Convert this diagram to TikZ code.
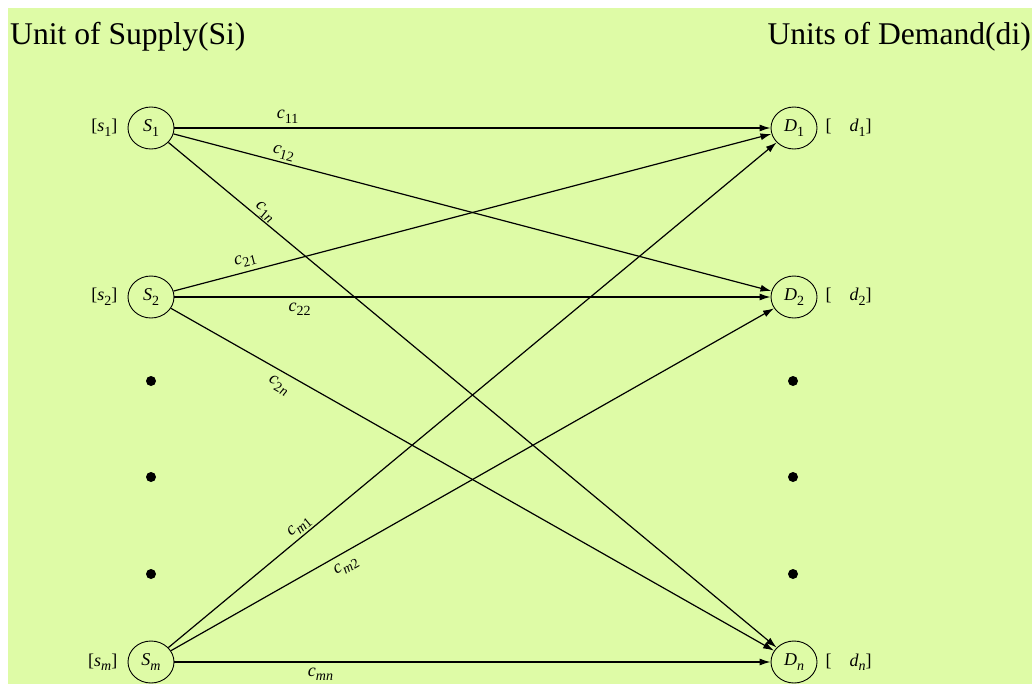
\documentclass[tikz,border=0pt]{standalone}
\usepackage{fontspec}
\setmainfont{Liberation Serif}
\usetikzlibrary{shapes.geometric,arrows.meta}
\definecolor{bgg}{RGB}{222,251,166}
\newcommand\sv[2]{\textit{#1}\raisebox{-0.25em}{\fontsize{14}{15}\selectfont #2}}
\begin{document}
\begin{tikzpicture}[x=1pt,y=-1pt,
  nd/.style={draw,ellipse,minimum width=46pt,minimum height=42pt,inner sep=0pt,line width=0.9pt,font=\fontsize{18}{20}\selectfont},
  lbl/.style={inner sep=0pt,font=\fontsize{18}{20}\selectfont},
  cl/.style={inner sep=4pt,font=\fontsize{18}{20}\selectfont},
  edge/.style={line width=1.2pt,-{Latex[length=11pt,width=7pt]}},
  dotn/.style={circle,fill=black,inner sep=0pt,minimum size=10pt},
  ttl/.style={inner sep=0pt,font=\fontsize{31.6}{36}\selectfont}]
\useasboundingbox (0,0) rectangle (1032,685);
\fill[bgg] (8,8) rectangle (1032,684);
\node[ttl,anchor=base west] (tl) at (10,45) {Unit of Supply(Si)};
\node[ttl,anchor=base east] (tr) at (1031,45) {Units of Demand(di)};
% supply nodes
\node[nd] (S1) at (151,128) {\sv{S}{1}};
\node[nd] (S2) at (151,297) {\sv{S}{2}};
\node[nd] (Sm) at (151,662) {\sv{S}{\textit{m}}};
% demand nodes
\node[nd] (D1) at (794,128) {\sv{D}{1}};
\node[nd] (D2) at (794,297) {\sv{D}{2}};
\node[nd] (Dn) at (794,662) {\sv{D}{\textit{n}}};
% side labels
\node[lbl,anchor=east] (s1l) at ([xshift=-10pt]S1.west) {[\sv{s}{1}]};
\node[lbl,anchor=east] (s2l) at ([xshift=-10pt]S2.west) {[\sv{s}{2}]};
\node[lbl,anchor=east] (sml) at ([xshift=-10pt]Sm.west) {[\sv{s}{\textit{m}}]};
\node[lbl,anchor=west] (d1l) at ([xshift=8pt]D1.east) {[\quad\sv{d}{1}]};
\node[lbl,anchor=west] (d2l) at ([xshift=8pt]D2.east) {[\quad\sv{d}{2}]};
\node[lbl,anchor=west] (dnl) at ([xshift=8pt]Dn.east) {[\quad\sv{d}{\textit{n}}]};
% dots
\node[dotn] (l1) at (151,381) {};
\node[dotn] (l2) at (151,477) {};
\node[dotn] (l3) at (151,574) {};
\node[dotn] (r1) at (793,381) {};
\node[dotn] (r2) at (793,477) {};
\node[dotn] (r3) at (793,574) {};
% edges
\draw[edge] (S1) -- (D1) node[cl,pos=0.19,above] {\sv{c}{11}};
\draw[edge] (S1) -- (D2) node[cl,pos=0.18,above,sloped,inner sep=2pt] {\sv{c}{12}};
\draw[edge] (S1) -- (Dn) node[cl,pos=0.15,above,sloped,inner sep=1pt] {\sv{c}{1\textit{n}}};
\draw[edge] (S2) -- (D1) node[cl,pos=0.125,above,sloped] {\sv{c}{21}};
\draw[edge] (S2) -- (D2) node[cl,pos=0.21,below,inner sep=5pt] {\sv{c}{22}};
\draw[edge] (S2) -- (Dn) node[cl,pos=0.19,below,sloped,inner sep=7pt] {\sv{c}{2\textit{n}}};
\draw[edge] (Sm) -- (D1) node[cl,pos=0.225,above,sloped,inner sep=2pt] {\sv{c}{\textit{m}1}};
\draw[edge] (Sm) -- (D2) node[cl,pos=0.28,below,sloped,inner sep=6pt] {\sv{c}{\textit{m}2}};
\draw[edge] (Sm) -- (Dn) node[cl,pos=0.245,below,inner sep=5pt] {\sv{c}{\textit{mn}}};
\end{tikzpicture}
\end{document}
